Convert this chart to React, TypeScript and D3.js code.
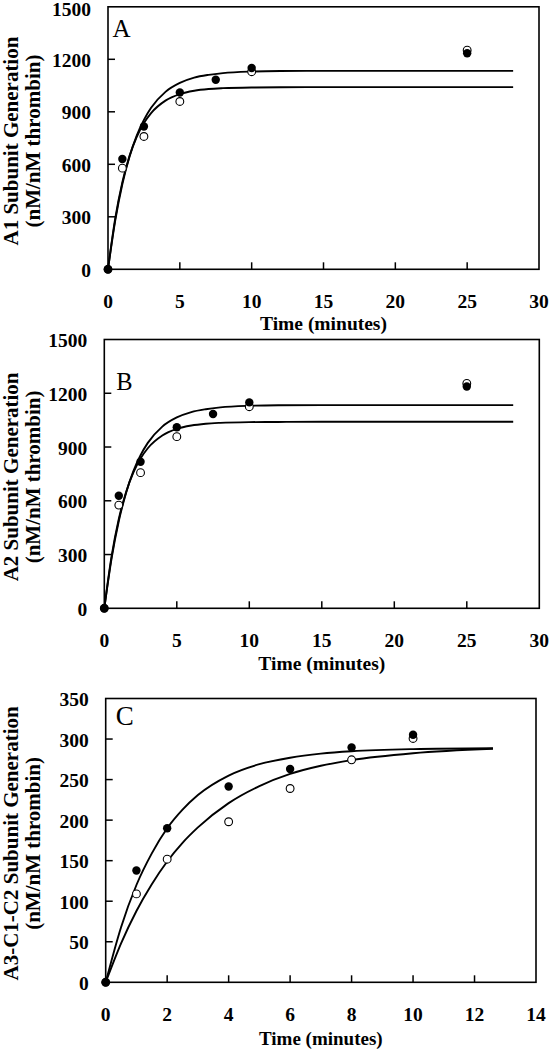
import React from "react";
import * as d3 from "d3";

// ---------- data ----------
// Panel A: A1 subunit
const a1FilledTime = [0, 1, 2.5, 5, 7.5, 10, 25];
const a1FilledValue = [0, 630, 816, 1010, 1083, 1150, 1235];
const a1OpenTime = [0, 1, 2.5, 5, 10, 25];
const a1OpenValue = [0, 578, 759, 959, 1129, 1252];
const a1CurveTime = [0, 0.5, 1, 1.5, 2, 2.5, 3, 4, 5, 6, 7, 8, 10, 12, 15, 20, 28.2];
const a1UpperCurve = [0, 277, 487, 644, 764, 854, 923, 1014, 1065, 1095, 1111, 1121, 1130, 1133, 1134, 1134, 1134];
const a1LowerCurve = [0, 289, 498, 648, 757, 836, 893, 964, 1001, 1020, 1030, 1035, 1039, 1040, 1041, 1041, 1041];

// Panel B: A2 subunit
const a2FilledTime = [0, 1, 2.5, 5, 7.5, 10, 25];
const a2FilledValue = [0, 628, 818, 1010, 1084, 1149, 1238];
const a2OpenTime = [0, 1, 2.5, 5, 10, 25];
const a2OpenValue = [0, 576, 757, 958, 1125, 1255];
const a2CurveTime = [0, 0.5, 1, 1.5, 2, 2.5, 3, 4, 5, 6, 7, 8, 10, 12, 15, 20, 28.2];
const a2UpperCurve = [0, 277, 487, 644, 764, 854, 923, 1014, 1065, 1095, 1111, 1121, 1130, 1133, 1134, 1134, 1134];
const a2LowerCurve = [0, 289, 498, 648, 757, 836, 893, 964, 1001, 1020, 1030, 1035, 1039, 1040, 1041, 1041, 1041];

// Panel C: A3-C1-C2 subunit
const cFilledTime = [0, 1, 2, 4, 6, 8, 10];
const cFilledValue = [0, 137.8, 190, 241.5, 263, 289.6, 305.3];
const cOpenTime = [0, 1, 2, 4, 6, 8, 10];
const cOpenValue = [0, 109, 151.8, 198, 239, 274.4, 300.7];
const cCurveTime = [0, 0.5, 1, 1.5, 2, 2.5, 3, 4, 5, 6, 7, 8, 10, 12.6];
const cUpperCurve = [0, 68, 120, 159, 190, 213, 231, 255, 269, 277, 282, 285, 287.6, 288.6];
const cLowerCurve = [0, 48, 88, 121, 149, 172, 191, 221, 242, 257, 267, 274, 282.5, 288];

// tick labels
const abXTicks = [0, 5, 10, 15, 20, 25, 30];
const abYTicks = [0, 300, 600, 900, 1200, 1500];
const cXTicks = [0, 2, 4, 6, 8, 10, 12, 14];
const cYTicks = [0, 50, 100, 150, 200, 250, 300, 350];

const FONT = '"Liberation Serif", "Times New Roman", Times, serif';

type PanelProps = {
  left: number; right: number; top: number; bottom: number;
  xMax: number; yMax: number; xTicks: number[]; yTicks: number[];
  letter: string; letterDx: number; letterDy: number; letterSize: number;
  yLabel1: string; yLabel2: string;
  filledT: number[]; filledV: number[]; openT: number[]; openV: number[];
  curveT: number[]; upper: number[]; lower: number[];
  tickFont: number; titleFont: number; titleDy: number;
};

function Panel(p: PanelProps) {
  const x = d3.scaleLinear().domain([0, p.xMax]).range([p.left, p.right]);
  const y = d3.scaleLinear().domain([0, p.yMax]).range([p.bottom, p.top]);
  const line = d3
    .line<[number, number]>()
    .x((d) => x(d[0]))
    .y((d) => y(d[1]))
    .curve(d3.curveMonotoneX);
  const up = line(p.curveT.map((t, i) => [t, p.upper[i]] as [number, number])) || "";
  const lo = line(p.curveT.map((t, i) => [t, p.lower[i]] as [number, number])) || "";
  const cy = (p.top + p.bottom) / 2 + 3;
  const cx = (p.left + p.right) / 2;
  const tickLen = 7;
  return (
    <g>
      {/* curves */}
      <path d={up} fill="none" stroke="#000" strokeWidth={1.9} />
      <path d={lo} fill="none" stroke="#000" strokeWidth={1.9} />
      {/* frame */}
      <rect
        x={p.left}
        y={p.top}
        width={p.right - p.left}
        height={p.bottom - p.top}
        fill="none"
        stroke="#000"
        strokeWidth={1.6}
      />
      {/* ticks */}
      {p.xTicks.slice(1, -1).map((t) => (
        <line key={"xt" + t} x1={x(t)} x2={x(t)} y1={p.bottom} y2={p.bottom - tickLen} stroke="#000" strokeWidth={1.5} />
      ))}
      {p.yTicks.slice(1, -1).map((t) => (
        <line key={"yt" + t} x1={p.left} x2={p.left + tickLen} y1={y(t)} y2={y(t)} stroke="#000" strokeWidth={1.5} />
      ))}
      {/* tick labels */}
      {p.xTicks.map((t) => (
        <text key={"xl" + t} x={x(t)} y={p.bottom + 39} textAnchor="middle" fontFamily={FONT} fontWeight="bold" fontSize={p.tickFont}>
          {t}
        </text>
      ))}
      {p.yTicks.map((t) => (
        <text key={"yl" + t} x={p.left - 17} y={Math.max(y(t) + 7.5, 16)} textAnchor="end" fontFamily={FONT} fontWeight="bold" fontSize={p.tickFont}>
          {t}
        </text>
      ))}
      {/* axis titles */}
      <text x={cx} y={p.bottom + 39 + p.titleDy} textAnchor="middle" fontFamily={FONT} fontWeight="bold" fontSize={p.titleFont}>
        Time (minutes)
      </text>
      <text transform={`translate(17.5,${cy}) rotate(-90)`} textAnchor="middle" fontFamily={FONT} fontWeight="bold" fontSize={21}>
        {p.yLabel1}
      </text>
      <text transform={`translate(39.5,${cy}) rotate(-90)`} textAnchor="middle" fontFamily={FONT} fontWeight="bold" fontSize={21}>
        {p.yLabel2}
      </text>
      {/* panel letter */}
      <text x={p.left + p.letterDx} y={p.top + p.letterDy} fontFamily={FONT} fontSize={p.letterSize}>
        {p.letter}
      </text>
      {/* points: open first, filled on top */}
      {p.openT.map((t, i) => (
        <circle key={"o" + i} cx={x(t)} cy={y(p.openV[i])} r={3.9} fill="#fff" stroke="#000" strokeWidth={1.1} />
      ))}
      {p.filledT.map((t, i) => (
        <circle key={"f" + i} cx={x(t)} cy={y(p.filledV[i])} r={4.2} fill="#000" />
      ))}
    </g>
  );
}

export default function App() {
  return (
    <svg
      width={549}
      height={1050}
      style={{ position: "absolute", left: 0, top: 0, background: "#fff" }}
    >
      <rect x={0} y={0} width={549} height={1050} fill="#fff" />
      <Panel
        left={108} right={539} top={6.8} bottom={269.3}
        xMax={30} yMax={1500} xTicks={abXTicks} yTicks={abYTicks}
        letter="A" letterDx={4.5} letterDy={29.7} letterSize={25}
        yLabel1="A1 Subunit Generation" yLabel2="(nM/nM thrombin)"
        filledT={a1FilledTime} filledV={a1FilledValue}
        openT={a1OpenTime} openV={a1OpenValue}
        curveT={a1CurveTime} upper={a1UpperCurve} lower={a1LowerCurve}
        tickFont={19.5} titleFont={19.5} titleDy={22}
      />
      <Panel
        left={104.3} right={539.3} top={339.5} bottom={608.3}
        xMax={30} yMax={1500} xTicks={abXTicks} yTicks={abYTicks}
        letter="B" letterDx={12} letterDy={50.5} letterSize={24.5}
        yLabel1="A2 Subunit Generation" yLabel2="(nM/nM thrombin)"
        filledT={a2FilledTime} filledV={a2FilledValue}
        openT={a2OpenTime} openV={a2OpenValue}
        curveT={a2CurveTime} upper={a2UpperCurve} lower={a2LowerCurve}
        tickFont={19.5} titleFont={19.5} titleDy={23}
      />
      <Panel
        left={105.7} right={536} top={698.5} bottom={982.3}
        xMax={14} yMax={350} xTicks={cXTicks} yTicks={cYTicks}
        letter="C" letterDx={10} letterDy={26.5} letterSize={27}
        yLabel1="A3-C1-C2 Subunit Generation" yLabel2="(nM/nM thrombin)"
        filledT={cFilledTime} filledV={cFilledValue}
        openT={cOpenTime} openV={cOpenValue}
        curveT={cCurveTime} upper={cUpperCurve} lower={cLowerCurve}
        tickFont={19.5} titleFont={19} titleDy={24}
      />
    </svg>
  );
}
